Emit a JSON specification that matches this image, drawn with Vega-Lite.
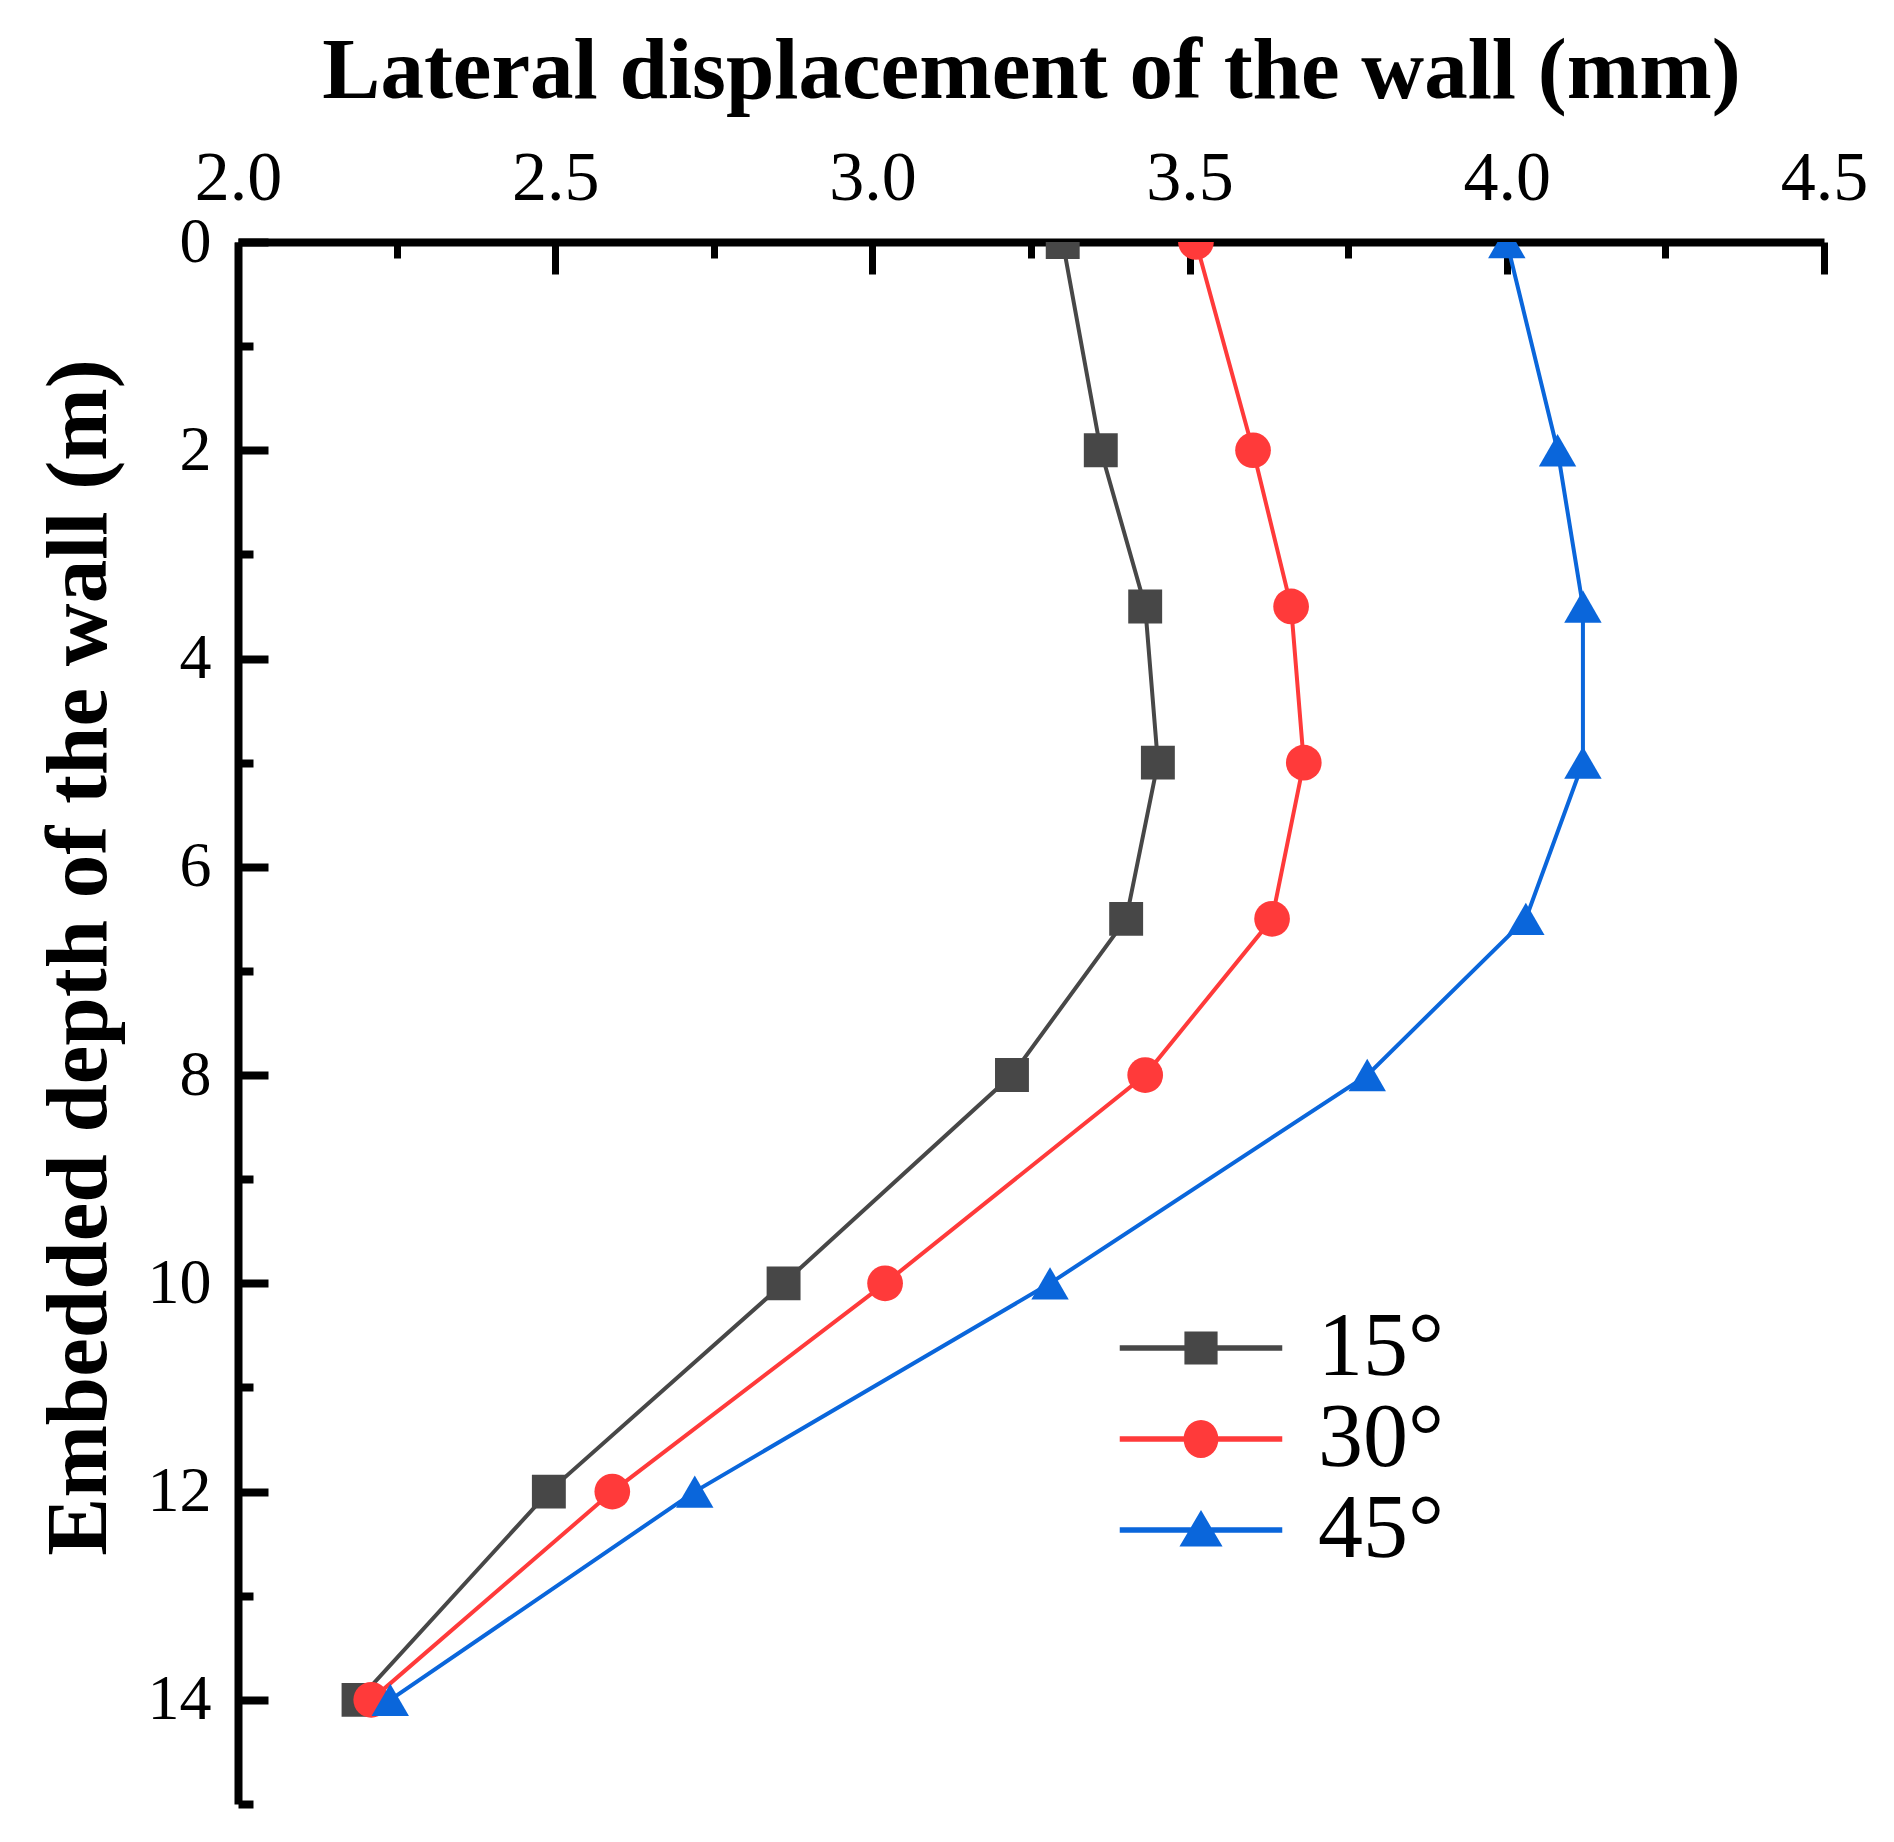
{
  "$schema": "https://vega.github.io/schema/vega-lite/v6.json",
  "width": 1586,
  "height": 1562,
  "autosize": {"type": "none"},
  "padding": {"left": 238, "top": 242, "right": 70, "bottom": 38},
  "background": "white",
  "config": {
    "view": {"stroke": null},
    "axis": {
      "grid": false,
      "domainColor": "black",
      "tickColor": "black",
      "labelColor": "black",
      "titleColor": "black",
      "labelFont": "Liberation Serif",
      "titleFont": "Liberation Serif"
    }
  },
  "data": {
    "values": [
      {"angle": "15°", "depth": 0, "disp": 3.30},
      {"angle": "15°", "depth": 2, "disp": 3.36},
      {"angle": "15°", "depth": 3.5, "disp": 3.43},
      {"angle": "15°", "depth": 5, "disp": 3.45},
      {"angle": "15°", "depth": 6.5, "disp": 3.40},
      {"angle": "15°", "depth": 8, "disp": 3.22},
      {"angle": "15°", "depth": 10, "disp": 2.86},
      {"angle": "15°", "depth": 12, "disp": 2.49},
      {"angle": "15°", "depth": 14, "disp": 2.19},
      {"angle": "30°", "depth": 0, "disp": 3.51},
      {"angle": "30°", "depth": 2, "disp": 3.60},
      {"angle": "30°", "depth": 3.5, "disp": 3.66},
      {"angle": "30°", "depth": 5, "disp": 3.68},
      {"angle": "30°", "depth": 6.5, "disp": 3.63},
      {"angle": "30°", "depth": 8, "disp": 3.43},
      {"angle": "30°", "depth": 10, "disp": 3.02},
      {"angle": "30°", "depth": 12, "disp": 2.59},
      {"angle": "30°", "depth": 14, "disp": 2.21},
      {"angle": "45°", "depth": 0, "disp": 4.00},
      {"angle": "45°", "depth": 2, "disp": 4.08},
      {"angle": "45°", "depth": 3.5, "disp": 4.12},
      {"angle": "45°", "depth": 5, "disp": 4.12},
      {"angle": "45°", "depth": 6.5, "disp": 4.03},
      {"angle": "45°", "depth": 8, "disp": 3.78},
      {"angle": "45°", "depth": 10, "disp": 3.28},
      {"angle": "45°", "depth": 12, "disp": 2.72},
      {"angle": "45°", "depth": 14, "disp": 2.24}
    ]
  },
  "layer": [
    {
      "mark": {"type": "line", "strokeWidth": 4, "clip": true},
      "encoding": {
        "x": {
          "field": "disp", "type": "quantitative",
          "scale": {"domain": [2.0, 4.5], "nice": false, "zero": false},
          "axis": {
            "orient": "top",
            "title": "Lateral displacement of the wall (mm)",
            "titleFontSize": 87, "titleFontWeight": "bold",
            "titleBaseline": "alphabetic", "titleY": -145, "titleX": 793, "titleAlign": "center",
            "values": [2.0, 2.5, 3.0, 3.5, 4.0, 4.5],
            "format": ".1f",
            "labelFontSize": 70,
            "labelPadding": 60,
            "labelFlush": false,
            "tickSize": -32, "tickWidth": 7,
            "domainWidth": 8
          }
        },
        "y": {
          "field": "depth", "type": "quantitative",
          "scale": {"domain": [0, 15], "reverse": true, "nice": false, "zero": false},
          "axis": {
            "orient": "left",
            "title": "Embedded depth of the wall (m)",
            "titleFontSize": 87, "titleFontWeight": "bold",
            "titleAngle": -90, "titleBaseline": "alphabetic", "titleAlign": "center",
            "titleX": -133, "titleY": 715,
            "values": [0, 2, 4, 6, 8, 10, 12, 14],
            "format": "d",
            "labelFontSize": 64,
            "labelPadding": 57,
            "labelFlush": false,
            "tickSize": -30, "tickWidth": 8,
            "domainWidth": 8
          }
        },
        "order": {"field": "depth", "type": "quantitative"},
        "color": {
          "field": "angle", "type": "nominal",
          "scale": {"domain": ["15°", "30°", "45°"], "range": ["#474747", "#FF3A3A", "#0A66DB"]},
          "legend": null
        }
      }
    },
    {
      "mark": {"type": "point", "filled": true, "opacity": 1, "clip": true},
      "encoding": {
        "x": {
          "field": "disp", "type": "quantitative",
          "scale": {"domain": [2.0, 4.5], "nice": false, "zero": false},
          "axis": {
            "orient": "top", "title": null, "labels": false, "domain": false,
            "values": [2.25, 2.75, 3.25, 3.75, 4.25],
            "tickSize": -16, "tickWidth": 7
          }
        },
        "y": {
          "field": "depth", "type": "quantitative",
          "scale": {"domain": [0, 15], "reverse": true, "nice": false, "zero": false},
          "axis": {
            "orient": "left", "title": null, "labels": false, "domain": false,
            "values": [1, 3, 5, 7, 9, 11, 13, 15],
            "tickSize": -15, "tickWidth": 8
          }
        },
        "color": {
          "field": "angle", "type": "nominal",
          "scale": {"domain": ["15°", "30°", "45°"], "range": ["#474747", "#FF3A3A", "#0A66DB"]},
          "legend": null
        },
        "shape": {
          "field": "angle", "type": "nominal",
          "scale": {"domain": ["15°", "30°", "45°"], "range": ["square", "circle", "triangle-up"]},
          "legend": null
        },
        "size": {
          "field": "angle", "type": "ordinal",
          "scale": {"domain": ["15°", "30°", "45°"], "range": [1150, 1400, 1800]},
          "legend": null
        }
      }
    },
    {
      "mark": {"type": "point", "filled": true, "opacity": 0},
      "encoding": {
        "x": {"field": "disp", "type": "quantitative", "axis": null},
        "y": {"field": "depth", "type": "quantitative", "axis": null},
        "color": {
          "field": "angle", "type": "nominal",
          "scale": {"domain": ["15°", "30°", "45°"], "range": ["#474747", "#FF3A3A", "#0A66DB"]},
          "legend": {
            "orient": "none",
            "legendX": 918,
            "legendY": 1061,
            "title": null,
            "symbolSize": 1100,
            "symbolOpacity": 1,
            "symbolStrokeWidth": 0,
            "labelFont": "Liberation Serif",
            "labelFontSize": 90,
            "labelColor": "black",
            "labelOffset": 72,
            "rowPadding": 1
          }
        },
        "shape": {
          "field": "angle", "type": "nominal",
          "scale": {
            "domain": ["15°", "30°", "45°"],
            "range": [
              "M-4.9,-0.16H4.9V0.16H-4.9Z M-1,-1H1V1H-1Z",
              "M-4.9,-0.16H4.9V0.16H-4.9Z M-1.05,0A1.05,1.15 0 1,1 1.05,0A1.05,1.15 0 1,1 -1.05,0Z",
              "M-4.9,-0.16H4.9V0.16H-4.9Z M0,-1.2L1.3,1L-1.3,1Z"
            ]
          },
          "legend": {
            "orient": "none",
            "legendX": 918,
            "legendY": 1061,
            "title": null,
            "symbolSize": 1100,
            "symbolOpacity": 1,
            "symbolStrokeWidth": 0,
            "labelFont": "Liberation Serif",
            "labelFontSize": 90,
            "labelColor": "black",
            "labelOffset": 72,
            "rowPadding": 1
          }
        }
      }
    }
  ],
  "resolve": {
    "axis": {"x": "independent", "y": "independent"},
    "scale": {"shape": "independent", "size": "independent", "color": "independent"}
  }
}
